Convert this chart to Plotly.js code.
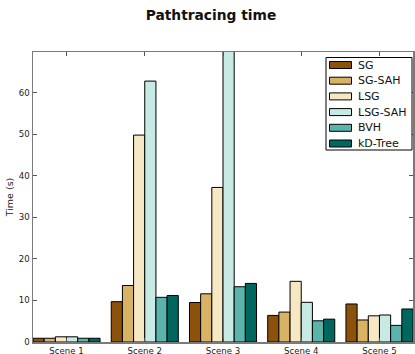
<!DOCTYPE html>
<html>
<head>
<meta charset="utf-8">
<script src="https://cdn.plot.ly/plotly-3.0.1.min.js"></script>
<style>html,body{margin:0;padding:0;background:#fff}#chart{width:415px;height:354px}</style>
</head>
<body>
<div id="chart"></div>
<script>
const categories = ["Scene 1", "Scene 2", "Scene 3", "Scene 4", "Scene 5"];
const seriesNames = ["SG", "SG-SAH", "LSG", "LSG-SAH", "BVH", "kD-Tree"];
const SG = [0.9, 9.7, 9.5, 6.4, 9.15];
const SG_SAH = [0.9, 13.6, 11.6, 7.2, 5.3];
const LSG = [1.25, 49.8, 37.2, 14.6, 6.3];
const LSG_SAH = [1.25, 62.8, 72, 9.55, 6.5];
const BVH = [0.9, 10.75, 13.3, 5.1, 4.0];
const KD = [0.9, 11.2, 14.1, 5.5, 7.95];
const colors = ["#8c510a", "#d8b365", "#f6e8c3", "#c7eae5", "#5ab4ac", "#01665e"];

const values = [SG, SG_SAH, LSG, LSG_SAH, BVH, KD];
const traces = values.map((v, i) => ({
  type: "bar",
  name: seriesNames[i],
  x: categories,
  y: v,
  marker: {color: colors[i], line: {color: "#000", width: 1}}
}));

// Plot area geometry (pixels) used to place the hand-made legend box
const W = 415, H = 354;
const M = {l: 33, r: 2, t: 52, b: 12};
const pw = W - M.l - M.r, ph = H - M.t - M.b;
const px = x => (x - M.l) / pw;          // pixel -> paper x
const py = y => (H - M.b - y) / ph;      // pixel -> paper y

const font = "DejaVu Sans, sans-serif";
const shapes = [{type: "rect", xref: "paper", yref: "paper",
  x0: px(326), x1: px(412), y0: py(150), y1: py(57.5),
  line: {color: "#000", width: 1}, fillcolor: "#fff", layer: "above"}];
const annotations = [];
seriesNames.forEach((name, i) => {
  const yc = 65 + i * 15.7;
  shapes.push({type: "rect", xref: "paper", yref: "paper",
    x0: px(329.5), x1: px(351.5), y0: py(yc + 3.5), y1: py(yc - 3.5),
    line: {color: "#000", width: 1}, fillcolor: colors[i], layer: "above"});
  annotations.push({xref: "paper", yref: "paper", x: px(355.5), y: py(yc),
    xanchor: "left", yanchor: "middle", showarrow: false, text: name,
    font: {family: font, size: 11, color: "#111"}});
});

const layout = {
  width: W, height: H,
  margin: M,
  paper_bgcolor: "#fff", plot_bgcolor: "#fff",
  font: {family: font, size: 8.6, color: "#222"},
  title: {text: "Pathtracing time", font: {family: font, size: 13.8, color: "#111", weight: "bold"},
          x: 211 / W, xref: "container", y: 0.97, yref: "container", xanchor: "center"},
  barmode: "group", bargap: 1/7, bargroupgap: 0,
  showlegend: false,
  shapes: shapes,
  annotations: annotations,
  xaxis: {type: "category", range: [-3/7, 4 + 3/7], showgrid: false,
          showline: true, linecolor: "#7a7a7a", linewidth: 1.5, mirror: "ticks",
          ticks: "inside", ticklen: 4, tickcolor: "#555",
          tickfont: {family: font, size: 8.6, color: "#222"}, zeroline: false, fixedrange: true},
  yaxis: {range: [0, 69.8], dtick: 10, tick0: 0, showgrid: false, zeroline: false,
          showline: true, linecolor: "#7a7a7a", linewidth: 1.5, mirror: "ticks",
          ticks: "inside", ticklen: 4, tickcolor: "#555",
          tickfont: {family: font, size: 8.6, color: "#222"},
          title: {text: "Time (s)", font: {family: font, size: 9.5, color: "#222"}, standoff: 3}}
};
Plotly.newPlot("chart", traces, layout, {displayModeBar: false, staticPlot: true});
</script>
</body>
</html>
